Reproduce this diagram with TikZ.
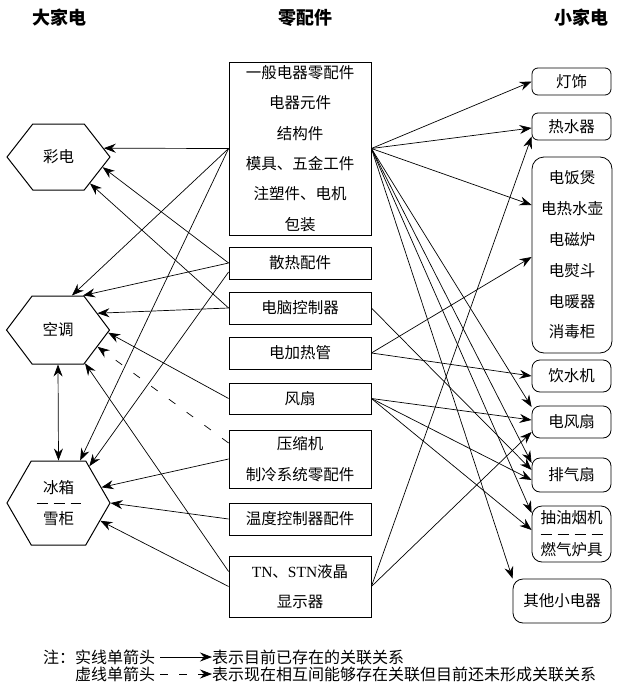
\documentclass[tikz,border=0pt]{standalone}
\usepackage{fontspec}
\setmainfont{Noto Sans CJK SC}
\newfontfamily\serifrm{Liberation Serif}
\usetikzlibrary{arrows.meta,shapes.symbols}

\begin{document}
\begin{tikzpicture}[x=1pt,y=-1pt,
  head/.style={font=\fontsize{18}{18}\selectfont\bfseries},
  bigapp/.style={draw,line width=1pt,shape=signal,signal to=west and east,
    minimum width=103pt,inner sep=0pt,align=center,font=\fontsize{15.5}{31}\selectfont},
  part/.style={draw,line width=0.8pt,minimum width=142pt,minimum height=32pt,
    inner sep=0pt,align=center,font=\fontsize{15.5}{30.4}\selectfont},
  smallapp/.style={draw,line width=0.8pt,rounded corners=6pt,minimum width=79pt,
    minimum height=27pt,inner sep=0pt,align=center,font=\fontsize{15.5}{30.8}\selectfont},
  note/.style={inner sep=0pt,anchor=west,font=\fontsize{16}{16}\selectfont},
  rel/.style={-{Stealth[length=12pt,width=9pt,inset=4pt]},line width=0.7pt},
  maybe/.style={rel,dash pattern=on 8pt off 14pt},
  split/.style={line width=0.8pt,dash pattern=on 11pt off 6pt}]
\useasboundingbox (0,0) rectangle (619,685);

% headings
\node[head] (hbig) at (59,18) {大家电};
\node[head] (hpart) at (305,18) {零配件};
\node[head] (hsmall) at (581,18) {小家电};

% big appliances
\node[bigapp,minimum height=66pt,signal pointer angle=104] (caidian) at (58.5,157) {彩电};
\node[bigapp,minimum height=68pt,signal pointer angle=106] (kongtiao) at (58,330) {空调};
\node[bigapp,minimum height=84pt,signal pointer angle=120] (bingxiang) at (58.5,503) {冰箱\\雪柜};
\draw[split] ([xshift=-22pt]bingxiang.center) -- ([xshift=22pt]bingxiang.center);

% parts
\node[part,minimum height=173pt] (general) at (300,148.5)
  {一般电器零配件\\电器元件\\结构件\\模具、五金工件\\注塑件、电机\\包装};
\node[part] (heatsink) at (300,263) {散热配件};
\node[part] (pcctrl) at (300,308) {电脑控制器};
\node[part] (heater) at (300,353) {电加热管};
\node[part,minimum height=31pt] (fan) at (300,398.5) {风扇};
\node[part,minimum height=58pt] (compressor) at (300,459) {压缩机\\制冷系统零配件};
\node[part] (thermo) at (300,519) {温度控制器配件};
\node[part,minimum height=61pt] (lcd) at (300,586.5) {{\serifrm TN}、{\serifrm STN}液晶\\显示器};

% small appliances
\node[smallapp] (light) at (571.5,81.5) {灯饰};
\node[smallapp] (waterheater) at (571.5,126.5) {热水器};
\node[smallapp,minimum width=80pt,minimum height=196pt,rounded corners=12pt] (kitchen) at (572,255)
  {电饭煲\\电热水壶\\电磁炉\\电熨斗\\电暖器\\消毒柜};
\node[smallapp,minimum height=32pt,rounded corners=8pt] (dispenser) at (571.5,376) {饮水机};
\node[smallapp,minimum height=32pt,rounded corners=8pt] (efan) at (571.5,422) {电风扇};
\node[smallapp,minimum height=34pt,rounded corners=8pt] (exhaust) at (571.5,475) {排气扇};
\node[smallapp,minimum height=56pt,rounded corners=10pt,font=\fontsize{15.5}{32}\selectfont] (hood) at (571.5,534) {抽油烟机\\燃气炉具};
\draw[split] ([xshift=-31pt]hood.center) -- ([xshift=31pt]hood.center);
\node[smallapp,minimum width=98pt,minimum height=44pt,rounded corners=10pt] (others) at (562,601) {其他小电器};

% parts -> big appliances
\draw[rel] (general.west) -- (caidian.11);
\draw[rel] (general.west) -- (kongtiao.68);
\draw[rel] (general.west) -- (bingxiang.63);
\draw[rel] (heatsink.west) -- (caidian.-13);
\draw[rel] (heatsink.west) -- (kongtiao.54);
\draw[rel] ([yshift=-9pt]heatsink.west) -- (bingxiang.50);
\draw[rel] (pcctrl.west) -- (caidian.-40);
\draw[rel] (pcctrl.west) -- (kongtiao.23);
\draw[rel] (fan.west) -- (kongtiao.-3);
\draw[maybe] ([yshift=16pt]compressor.west) -- (kongtiao.-23);
\draw[rel] (compressor.west) -- (bingxiang.20);
\draw[rel] (thermo.west) -- (bingxiang.east);
\draw[rel] ([yshift=15pt]lcd.west) -- (kongtiao.-51);
\draw[rel] (lcd.west) -- (bingxiang.-23);
\draw[rel,{Stealth[length=12pt,width=9pt,inset=4pt]}-{Stealth[length=12pt,width=9pt,inset=4pt]}]
  (kongtiao.south) -- (bingxiang.north);

% parts -> small appliances
\draw[rel] (general.east) -- (light.west);
\draw[rel] (general.east) -- ([yshift=-1.5pt]waterheater.west);
\draw[rel] (general.east) -- ([yshift=50pt]kitchen.west);
\draw[rel] (general.east) -- ([yshift=15pt]efan.west);
\draw[rel] (general.east) -- ([yshift=12pt]exhaust.west);
\draw[rel] (general.east) -- ([yshift=21pt]hood.west);
\draw[rel] (general.east) -- (others.north west);
\draw[rel] (pcctrl.east) -- ([yshift=5pt]exhaust.west);
\draw[rel] (heater.east) -- ([yshift=-2pt]kitchen.west);
\draw[rel] (heater.east) -- (dispenser.west);
\draw[rel] (fan.east) -- ([yshift=2pt]efan.west);
\draw[rel] (fan.east) -- ([yshift=-5pt]exhaust.west);
\draw[rel] (fan.east) -- ([yshift=4pt]hood.west);
\draw[rel] (lcd.east) -- ([yshift=-10pt]waterheater.west);
\draw[rel] (lcd.east) -- ([yshift=-10pt]efan.west);

% legend
\node[note] (note1) at (43,657) {注：实线单箭头};
\node[note] (desc1) at (212,657) {表示目前已存在的关联关系};
\node[note] (note2) at (75,674) {虚线单箭头};
\node[note] (desc2) at (212,674) {表示现在相互间能够存在关联但目前还未形成关联关系};
\draw[rel] ([xshift=5pt]note1.east) -- (desc1.west);
\draw[rel,dash pattern=on 8pt off 11pt] ([xshift=5pt]note2.east) -- (desc2.west);
\end{tikzpicture}
\end{document}
